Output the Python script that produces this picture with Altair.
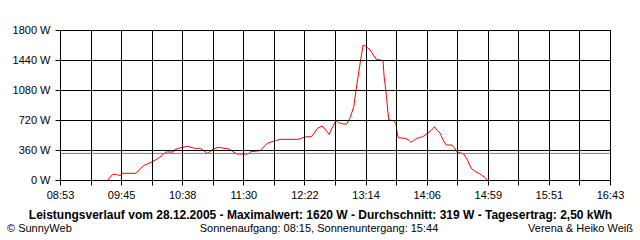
import altair as alt
import pandas as pd

times = ["09:34","09:38","09:41","09:43","09:45","09:46","09:58","10:02","10:05","10:12",
         "10:18","10:21","10:24","10:30","10:31","10:36","10:42","10:48","10:53","10:59",
         "11:04","11:08","11:14","11:18","11:21","11:24","11:34","11:36","11:44","11:50",
         "11:57","12:01","12:17","12:22","12:28","12:33","12:37","12:40","12:43","12:46",
         "12:49","12:51","12:55","12:58","13:01","13:04","13:06","13:09","13:12","13:14",
         "13:18","13:23","13:29","13:30","13:32","13:33","13:34","13:38","13:40","13:41",
         "13:42","13:48","13:51","13:53","13:55","13:58","14:01","14:03","14:07","14:10",
         "14:13","14:15","14:18","14:20","14:23","14:28","14:30","14:32","14:38","14:41",
         "14:43","14:45","14:48","14:51","14:53","14:56","14:58"]
watts = [0,68,68,56,56,80,80,140,176,220,
         268,308,336,336,364,388,404,380,380,320,
         372,392,380,368,340,312,312,340,352,440,
         472,488,488,516,520,620,648,600,548,640,
         712,688,672,672,748,880,1080,1360,1620,1608,
         1560,1452,1432,1240,1000,840,720,712,680,580,
         508,500,480,452,472,500,512,520,560,592,
         640,600,560,488,420,420,388,340,312,248,
         180,132,100,80,60,32,0]

x_tick_labels = ["08:53","09:45","10:38","11:30","12:22","13:14","14:06","14:59","15:51","16:43"]
y_ticks = [0, 360, 720, 1080, 1440, 1800]
average_w = 319

title_text = "Leistungsverlauf vom 28.12.2005 - Maximalwert: 1620 W - Durchschnitt: 319 W - Tagesertrag: 2,50 kWh"
left_text = "© SunnyWeb"
mid_text = "Sonnenaufgang: 08:15, Sonnenuntergang: 15:44"
right_text = "Verena & Heiko Weiß"

def to_min(s):
    h, m = s.split(":")
    return int(h) * 60 + int(m)

x0 = to_min(x_tick_labels[0])
x1 = to_min(x_tick_labels[-1])
n_int = (len(x_tick_labels) - 1) * 2
x_vals = [x0 + i * (x1 - x0) / n_int for i in range(n_int + 1)]
all_labels = []
for i, lab in enumerate(x_tick_labels):
    all_labels.append(lab)
    if i < len(x_tick_labels) - 1:
        all_labels.append("")
label_arr = "[" + ",".join("'" + l + "'" for l in all_labels) + "]"
x_label_expr = f"{label_arr}[round((datum.value-{x0})*{n_int}/{x1 - x0})]"

df = pd.DataFrame({"t": [to_min(s) for s in times], "w": watts})

FONT = "Liberation Sans"

xs = alt.Scale(domain=[x0, x1], nice=False, zero=False)
ys = alt.Scale(domain=[0, 1800], nice=False)

x_axis = alt.Axis(values=x_vals, labelExpr=x_label_expr, grid=True, gridColor="black",
                  gridOpacity=1, gridWidth=1, tickColor="black", tickSize=5, tickWidth=1,
                  domain=False, labelFont=FONT, labelFontSize=11, labelColor="black",
                  labelPadding=4, labelOverlap=False, labelFlush=False, labelBound=False,
                  title=None, zindex=1)
y_axis = alt.Axis(values=y_ticks, labelExpr="datum.value + ' W'", grid=True, gridColor="black",
                  gridOpacity=1, gridWidth=1, tickColor="black", tickSize=5, tickWidth=1,
                  domain=False, labelFont=FONT, labelFontSize=11, labelColor="black",
                  labelPadding=5, labelOverlap=False, labelFlush=False, labelBound=False,
                  title=None, zindex=1)

line = alt.Chart(df).mark_line(color="#ff0000", strokeWidth=1).encode(
    x=alt.X("t:Q", scale=xs, axis=x_axis),
    y=alt.Y("w:Q", scale=ys, axis=y_axis),
)

avg = alt.Chart(pd.DataFrame({"a": [average_w]})).mark_rule(color="#808080", strokeWidth=1).encode(
    y=alt.Y("a:Q", scale=ys, axis=y_axis)
)

def txt(s, x, y, align="center", bold=False, size=11):
    return alt.Chart(pd.DataFrame({"s": [s]})).mark_text(
        align=align, baseline="middle", font=FONT, fontSize=size,
        fontWeight="bold" if bold else "normal", color="black"
    ).encode(text="s:N", x=alt.value(x), y=alt.value(y))

chart = alt.layer(
    line, avg,
    txt(title_text, 260.5, 185, bold=True, size=12),
    txt(left_text, -53, 199, align="left"),
    txt(mid_text, 259, 199),
    txt(right_text, 573, 199, align="right"),
).properties(
    width=550, height=150,
    autosize=alt.AutoSizeParams(type="none"),
    padding={"left": 60, "top": 30, "right": 30, "bottom": 60},
    background="white",
).configure_view(stroke="black", strokeWidth=1)

chart.save("out.html", embed_options={"renderer": "svg", "actions": False})
